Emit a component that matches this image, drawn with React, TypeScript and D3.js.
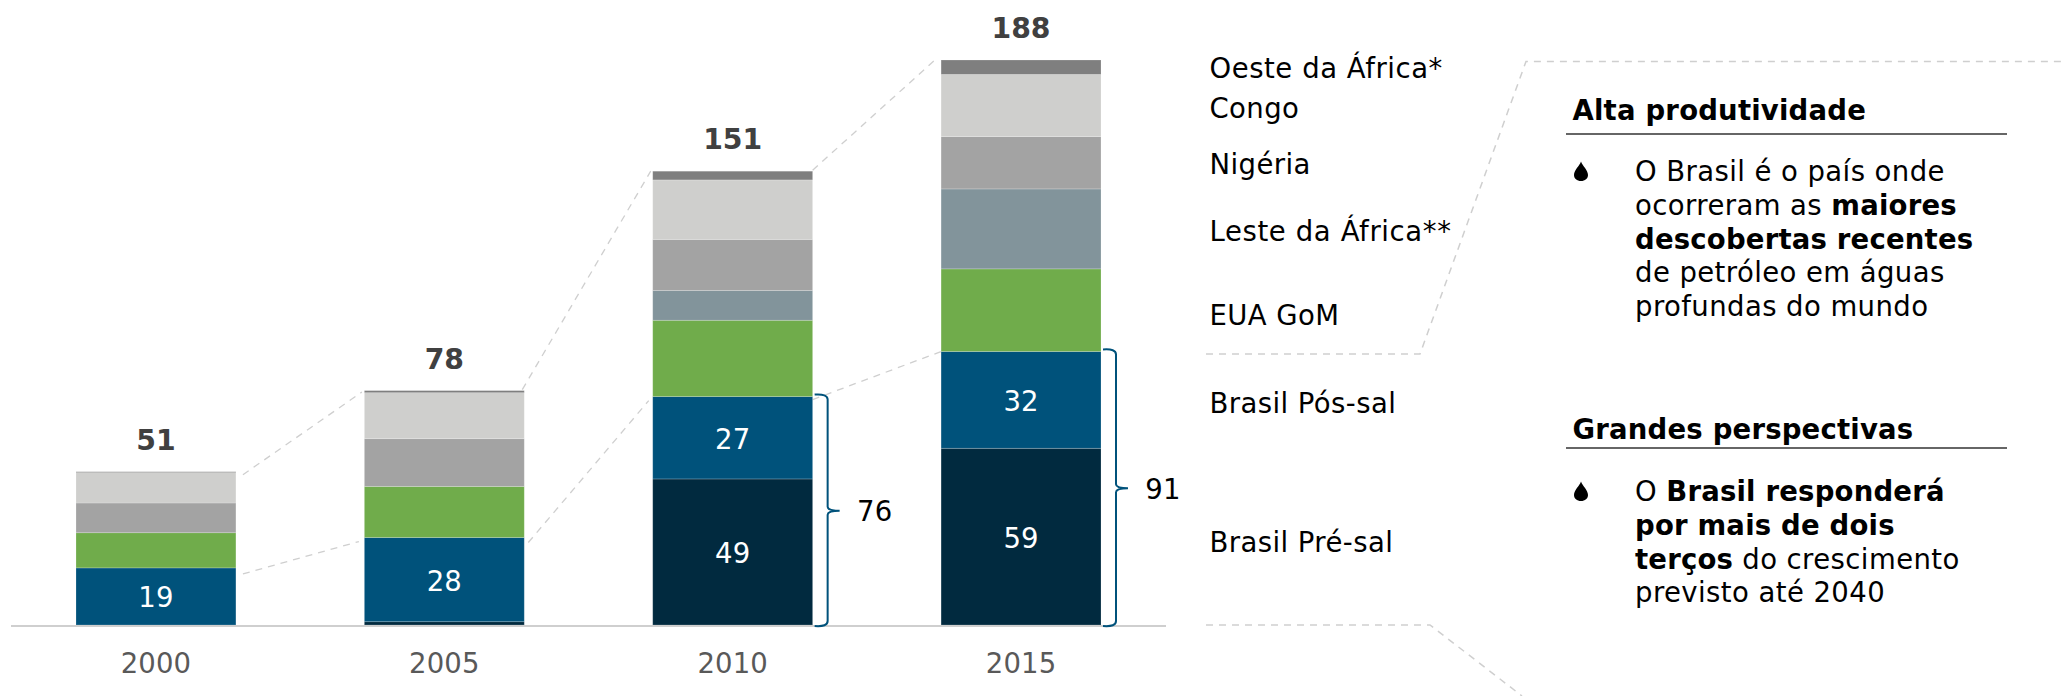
import React from "react";
import * as d3 from "d3";

const years = ["2000", "2005", "2010", "2015"];
const totals = [51, 78, 151, 188];
const seriesNames = ["Brasil Pré-sal", "Brasil Pós-sal", "EUA GoM", "Leste da África**", "Nigéria", "Congo", "Oeste da África*"];
const preSal = [0, 1.1, 48.6, 58.8];
const posSal = [19, 28, 27.4, 32.2];
const eua = [11.7, 17, 25.4, 27.5];
const leste = [0, 0, 9.9, 26.6];
const nigeria = [9.9, 15.9, 17, 17.4];
const congo = [10.1, 15.3, 19.8, 20.7];
const oeste = [0.3, 0.7, 2.9, 4.8];
const seriesColors = ["#012a3f", "#00527b", "#70ac4b", "#82949b", "#a3a3a3", "#cfcfcd", "#7f7f7f"];
const preSalLabels = ["", "", "49", "59"];
const posSalLabels = ["19", "28", "27", "32"];
const bracketValues = [null, null, 76, 91];
const legendBaselines = [552, 413, 325, 241, 174, 118, 78];
const legendSpacing = [0.42, 0.42, 0.42, 0.62, 0.42, 0.42, 0.55];

const seriesValues = [preSal, posSal, eua, leste, nigeria, congo, oeste];

// [start dx, start dy, end dx, end dy] of each connector, relative to the bars' corners
const topGaps = [[7, 3, -2.5, 1.5], [-2, -1, -2, 0], [0, -1, -5, -1]];
const lowerGaps = [[7, 6, -5.5, 4], [4, 5, -4, 4], [0, 3, 0, 0]];

const FONT = "'DejaVu Sans', Verdana, sans-serif";
const FS = 27.5;
const LS_TEXT = 0.42;
const LS_BOLD = 0.2;
const LS_NUM = 0.15;

const panels = [
  {
    title: "Alta produtividade",
    titleY: 120,
    ruleY: 134,
    dropY: 171,
    lines: [
      [["O Brasil é o país onde", false]],
      [["ocorreram as ", false], ["maiores", true]],
      [["descobertas recentes", true]],
      [["de petróleo em águas", false]],
      [["profundas do mundo", false]],
    ],
    firstBaseline: 181,
  },
  {
    title: "Grandes perspectivas",
    titleY: 439,
    ruleY: 448,
    dropY: 491,
    lines: [
      [["O ", false], ["Brasil responderá", true]],
      [["por mais de dois", true]],
      [["terços", true], [" do crescimento", false]],
      [["previsto até 2040", false]],
    ],
    firstBaseline: 501,
  },
];

export default function App() {
  const x = d3.scaleBand<string>().domain(years).range([76, 1101]).paddingInner(0.4454).paddingOuter(0);
  const y = d3.scaleLinear().domain([0, 188]).range([625, 60]);
  const bw = x.bandwidth();

  const rows = years.map((yr, i) => {
    const r: Record<string, number | string> = { year: yr };
    seriesNames.forEach((s, k) => (r[s] = seriesValues[k][i]));
    return r;
  });
  const stacked = d3.stack<any>().keys(seriesNames)(rows as any);
  const brazilTop = years.map((_, i) => preSal[i] + posSal[i]);

  const dash = "7 6";
  const line = d3.line();

  return (
    <svg
      width={2064}
      height={696}
      viewBox="0 0 2064 696"
      style={{ position: "absolute", left: 0, top: 0, display: "block", background: "#fff" }}
      fontFamily={FONT}
    >
      {/* connectors between the bars */}
      {years.slice(0, -1).map((yr, i) => {
        const x0 = x(yr)! + bw;
        const x1 = x(years[i + 1])!;
        const t = topGaps[i];
        const l = lowerGaps[i];
        return (
          <g key={yr} fill="none" stroke="#cfcfcf" strokeWidth={1.3} strokeDasharray={dash}>
            <path d={line([[x0 + t[0], y(totals[i]) + t[1]], [x1 + t[2], y(totals[i + 1]) + t[3]]])!} />
            <path d={line([[x0 + l[0], y(brazilTop[i]) + l[1]], [x1 + l[2], y(brazilTop[i + 1]) + l[3]]])!} />
          </g>
        );
      })}

      {/* stacked bars */}
      {stacked.map((layer, k) => (
        <g key={layer.key}>
          {layer.map((d, i) =>
            d[1] - d[0] > 0 ? (
              <rect
                key={i}
                x={x(years[i])}
                width={bw}
                y={y(d[1])}
                height={y(d[0]) - y(d[1])}
                fill={seriesColors[k]}
                stroke="#fff"
                strokeOpacity={0.25}
                strokeWidth={0.8}
              />
            ) : null
          )}
        </g>
      ))}

      {/* axis */}
      <line x1={11} x2={1166} y1={y(0) + 1} y2={y(0) + 1} stroke="#cfcfcf" strokeWidth={2.2} />
      {years.map((yr) => (
        <text key={yr} x={x(yr)! + bw / 2} y={673} textAnchor="middle" fontSize={FS} letterSpacing={LS_NUM} fill="#595959">
          {yr}
        </text>
      ))}

      {/* totals */}
      {years.map((yr, i) => (
        <text key={yr} x={x(yr)! + bw / 2} y={y(totals[i]) - 22} textAnchor="middle" fontSize={28.3} fontWeight="bold" fill="#404040">
          {totals[i]}
        </text>
      ))}

      {/* inner labels */}
      {years.map((yr, i) => {
        const cx = x(yr)! + bw / 2;
        return (
          <g key={yr} fontSize={FS} letterSpacing={LS_NUM} fill="#fff" textAnchor="middle">
            {posSalLabels[i] && <text x={cx} y={y(preSal[i] + posSal[i] / 2) + 11}>{posSalLabels[i]}</text>}
            {preSalLabels[i] && <text x={cx} y={y(preSal[i] / 2) + 11.5}>{preSalLabels[i]}</text>}
          </g>
        );
      })}

      {/* brackets */}
      {years.map((yr, i) => {
        const v = bracketValues[i];
        if (v == null) return null;
        const x0 = x(yr)! + bw + 2;
        const xv = x0 + 13;
        const top = y(v) - 2;
        const bot = y(0) + 1;
        const mid = y(v / 2);
        const d = `M${x0},${top} Q${xv},${top - 1} ${xv},${top + 5} L${xv},${mid - 4} Q${xv},${mid} ${xv + 12},${mid} Q${xv},${mid} ${xv},${mid + 4} L${xv},${bot - 5} Q${xv},${bot + 1} ${x0},${bot}`;
        return (
          <g key={yr}>
            <path d={d} fill="none" stroke="#00527b" strokeWidth={2} />
            <text x={xv + 47} y={mid + 10.5} textAnchor="middle" fontSize={FS} letterSpacing={LS_NUM} fill="#000">
              {v}
            </text>
          </g>
        );
      })}

      {/* legend */}
      {seriesNames.map((s, k) => (
        <text key={s} x={1209.5} y={legendBaselines[k]} fontSize={FS} letterSpacing={legendSpacing[k]} fill="#000">
          {s}
        </text>
      ))}

      {/* outline of the callout */}
      <g fill="none" stroke="#cfcfcf" strokeWidth={1.5} strokeDasharray={dash}>
        <path d={line([[1206, 354], [1420, 354], [1526, 61.5], [2064, 61.5]])!} />
        <path d={line([[1206, 625], [1430, 625], [1522, 696]])!} />
      </g>

      {/* panels */}
      {panels.map((p) => (
        <g key={p.title}>
          <text x={1572.5} y={p.titleY} fontSize={FS} letterSpacing={LS_BOLD} fontWeight="bold" fill="#000">
            {p.title}
          </text>
          <line x1={1566} x2={2007} y1={p.ruleY} y2={p.ruleY} stroke="#666" strokeWidth={1.8} />
          <path
            d="M0,-9.5 C1.5,-5 7,-1 7,4 C7,7.5 4,10 0,10 C-4,10 -7,7.5 -7,4 C-7,-1 -1.5,-5 0,-9.5 Z"
            transform={`translate(1581,${p.dropY})`}
            fill="#000"
          />
          {p.lines.map((ln, j) => (
            <text key={j} x={1635} y={p.firstBaseline + j * 33.75} fontSize={FS} fill="#000" xmlSpace="preserve">
              {ln.map(([t, b], m) => (
                <tspan key={m} fontWeight={b ? "bold" : "normal"} letterSpacing={b ? LS_BOLD : LS_TEXT}>
                  {t as string}
                </tspan>
              ))}
            </text>
          ))}
        </g>
      ))}
    </svg>
  );
}
